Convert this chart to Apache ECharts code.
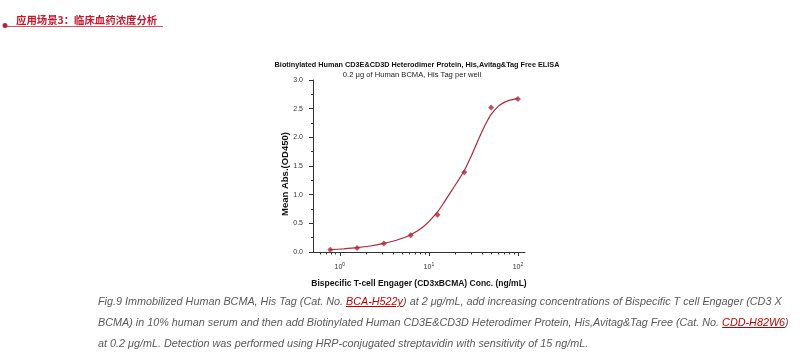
<!DOCTYPE html>
<html>
<head>
<meta charset="utf-8">
<script src="https://cdn.jsdelivr.net/npm/echarts@6/dist/echarts.min.js"></script>
<style>
    html, body { margin: 0; padding: 0; background: #fff; }
    #wrap { position: relative; width: 800px; height: 354px; }
    #chart { position: absolute; left: 0; top: 0; width: 800px; height: 354px; }
    #caption {
        position: absolute; left: 98px; top: 291px; width: 700px;
        font: italic 10.8px 'Liberation Sans', Arial, sans-serif;
        color: #595959; line-height: 21px; white-space: nowrap;
    }
    #caption a { color: #c00000; text-decoration: underline; }
</style>
</head>
<body>
<div id="wrap">
    <div id="chart"></div>
    <!-- 图注 -->
    <div id="caption">
        Fig.9 Immobilized Human BCMA, His Tag (Cat. No. <a>BCA-H522y</a>) at 2 μg/mL, add increasing concentrations of Bispecific T cell Engager (CD3 X<br>
        BCMA) in 10% human serum and then add Biotinylated Human CD3E&amp;CD3D Heterodimer Protein, His,Avitag&amp;Tag Free (Cat. No. <a>CDD-H82W6</a>)<br>
        at 0.2 μg/mL. Detection was performed using HRP-conjugated streptavidin with sensitivity of 15 ng/mL.
    </div>
</div>
<script>
// 浓度 (ng/mL) 与 OD450 读数
const conc = [0.78125, 1.5625, 3.125, 6.25, 12.5, 25, 50, 100]
const od = [0.04, 0.07, 0.15, 0.29, 0.65, 1.39, 2.52, 2.67]
// 拟合曲线
const fitConc = [0.78, 1.1, 1.56, 2.2, 3.1, 4.4, 6.25, 8.8, 12.5, 15, 18, 21, 25, 30, 35, 40, 45, 50, 60, 70, 80, 100]
const fitOd = [0.04, 0.055, 0.075, 0.105, 0.15, 0.21, 0.30, 0.45, 0.70, 0.88, 1.07, 1.23, 1.42, 1.68, 1.92, 2.12, 2.28, 2.40, 2.54, 2.61, 2.645, 2.68]
// 坐标轴刻度
const xMajorTicks = [1, 10, 100]
const xMinorTicks = [0.6, 0.7, 0.8, 0.9, 2, 3, 4, 5, 6, 7, 8, 9, 20, 30, 40, 50, 60, 70, 80, 90]

const RED = '#b3263a'
const FONT = "'Liberation Sans', Arial, sans-serif"

const chart = echarts.init(document.getElementById('chart'))

const option = {
    animation: false,
    grid: { left: 313, right: 275, top: 80, bottom: 102 },
    graphic: [
        // 页眉
        { type: 'line', shape: { x1: 5, y1: 26.5, x2: 163, y2: 26.5 }, style: { stroke: '#d9535f', lineWidth: 1 } },
        { type: 'circle', shape: { cx: 5, cy: 25.5, r: 2.5 }, style: { fill: '#b3263a' } },
        {
            type: 'text', x: 16, y: 20,
            style: { text: '应用场景3：临床血药浓度分析', font: "bold 10.4px 'Noto Sans CJK SC'", fill: '#c8182e', textVerticalAlign: 'middle' }
        },
        // 图标题
        {
            type: 'text', x: 417, y: 65, scaleX: 0.91,
            style: { text: 'Biotinylated Human CD3E&CD3D Heterodimer Protein, His,Avitag&Tag Free ELISA', font: 'bold 8px ' + FONT, fill: '#111', textAlign: 'center', textVerticalAlign: 'middle' }
        },
        {
            type: 'text', x: 412, y: 75, scaleX: 0.95,
            style: { text: '0.2 μg of Human BCMA, His Tag per well', font: '8px ' + FONT, fill: '#222', textAlign: 'center', textVerticalAlign: 'middle' }
        },
        // y 轴名称
        {
            type: 'text', x: 285, y: 174, rotation: Math.PI / 2,
            style: { text: 'Mean Abs.(OD450)', font: 'bold 9.5px ' + FONT, fill: '#111', textAlign: 'center', textVerticalAlign: 'middle' }
        }
    ],
    xAxis: [
        {
            type: 'log',
            min: 0.5,
            max: 120,
            name: 'Bispecific T-cell Engager (CD3xBCMA) Conc. (ng/mL)',
            nameLocation: 'middle',
            nameGap: 27,
            nameTextStyle: { fontFamily: FONT, fontWeight: 'bold', fontSize: 8.5, color: '#111' },
            axisLine: { lineStyle: { color: '#333', width: 1 } },
            axisTick: { length: 4, lineStyle: { color: '#333' }, customValues: xMajorTicks },
            axisLabel: {
                customValues: xMajorTicks,
                margin: 10,
                formatter: (v) => '{b|10}{s|' + Math.round(Math.log10(v)) + '}',
                rich: {
                    b: { fontFamily: FONT, fontSize: 7, color: '#333' },
                    s: { fontFamily: FONT, fontSize: 5, color: '#333', padding: [0, 0, 5, 0] }
                }
            },
            splitLine: { show: false }
        },
        {
            // 次刻度
            type: 'log',
            min: 0.5,
            max: 120,
            position: 'bottom',
            axisLine: { show: false },
            axisTick: { length: 2.5, lineStyle: { color: '#333' }, customValues: xMinorTicks },
            axisLabel: { show: false },
            splitLine: { show: false }
        }
    ],
    yAxis: {
        type: 'value',
        min: 0,
        max: 3,
        interval: 0.5,
        axisLine: { show: true, lineStyle: { color: '#333', width: 1 } },
        axisTick: { show: true, length: 4, lineStyle: { color: '#333' } },
        minorTick: { show: true, splitNumber: 2, length: 2, lineStyle: { color: '#333' } },
        axisLabel: { fontFamily: FONT, fontSize: 7, color: '#333', margin: 10, formatter: (v) => v.toFixed(1) },
        splitLine: { show: false }
    },
    series: [
        {
            type: 'line',
            data: fitConc.map((c, i) => [c, fitOd[i]]),
            smooth: 0.3,
            symbol: 'none',
            lineStyle: { color: RED, width: 1.2 }
        },
        {
            type: 'scatter',
            data: conc.map((c, i) => [c, od[i]]),
            symbol: 'diamond',
            symbolSize: 6,
            itemStyle: { color: RED }
        }
    ]
}

chart.setOption(option)
</script>
</body>
</html>
